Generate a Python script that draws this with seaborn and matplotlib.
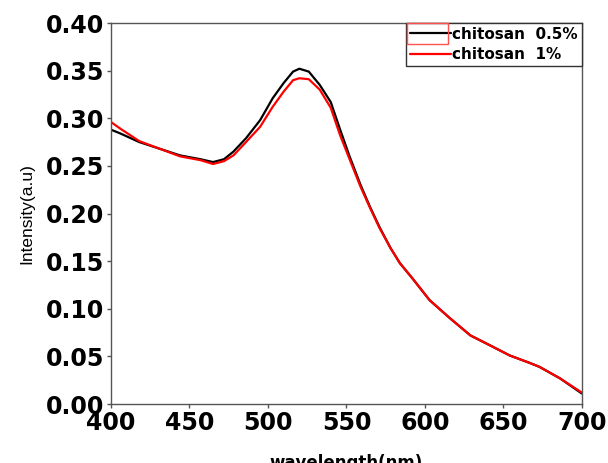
import matplotlib
matplotlib.use('Agg')
import matplotlib.pyplot as plt
import pandas as pd
import seaborn as sns
from matplotlib.patches import Rectangle

# wavelength (nm) and intensity
wavelength = [400, 406, 418, 431, 444, 457, 465, 472, 478, 486, 495, 503, 510, 516, 520, 526,
              533, 540, 546, 552, 559, 565, 571, 578, 584, 592, 603, 616, 629, 641, 654, 667,
              673, 686, 700]
chitosan_05 = [0.288, 0.284, 0.275, 0.268, 0.261, 0.257, 0.254, 0.257, 0.265, 0.279, 0.298, 0.321,
               0.337, 0.349, 0.352, 0.349, 0.335, 0.317, 0.288, 0.260, 0.230, 0.207, 0.186, 0.164,
               0.148, 0.132, 0.109, 0.090, 0.072, 0.062, 0.051, 0.043, 0.039, 0.027, 0.011]
chitosan_1 = [0.296, 0.289, 0.276, 0.268, 0.260, 0.256, 0.252, 0.255, 0.261, 0.275, 0.291, 0.312,
              0.328, 0.340, 0.342, 0.341, 0.330, 0.311, 0.282, 0.257, 0.228, 0.206, 0.185, 0.164,
              0.148, 0.132, 0.109, 0.090, 0.072, 0.062, 0.051, 0.043, 0.039, 0.027, 0.012]
labels = ['chitosan  0.5%', 'chitosan  1%']
xticks = [400, 450, 500, 550, 600, 650, 700]
yticks = [0.00, 0.05, 0.10, 0.15, 0.20, 0.25, 0.30, 0.35, 0.40]

df = pd.DataFrame({
    'wavelength': wavelength * 2,
    'intensity': chitosan_05 + chitosan_1,
    'sample': [labels[0]] * len(wavelength) + [labels[1]] * len(wavelength),
})

sns.set_style('ticks')
plt.rcParams['font.family'] = ['DejaVu Sans']
plt.rcParams['text.color'] = 'black'
plt.rcParams['xtick.color'] = 'black'
plt.rcParams['ytick.color'] = 'black'
plt.rcParams['axes.labelcolor'] = 'black'

fig = plt.figure(figsize=(6.08, 4.63), dpi=100)
ax = fig.add_axes([0.1826, 0.1274, 0.7744, 0.8229])

sns.lineplot(data=df, x='wavelength', y='intensity', hue='sample',
             palette=['black', '#ff0000'], linewidth=1.6, ax=ax)

ax.set_xlim(400, 700)
ax.set_ylim(0, 0.40)
ax.set_xticks(xticks)
ax.set_yticks(yticks)
ax.set_xticklabels([str(t) for t in xticks], fontsize=17, fontweight='bold', color='black')
ax.set_yticklabels(['%.2f' % t for t in yticks], fontsize=17, fontweight='bold', color='black')
ax.tick_params(axis='both', length=3, width=1, color='#555555', pad=2)

for s in ax.spines.values():
    s.set_color('#555555')
    s.set_linewidth(1)

ax.set_xlabel('wavelength(nm)', fontsize=12, fontweight='bold', labelpad=14, color='black')
ax.set_ylabel('Intensity(a.u)', fontsize=12.5, family=['Liberation Sans'], labelpad=8,
              color='black')

handles, _ = ax.get_legend_handles_labels()
leg = ax.legend(handles, labels, loc='upper right', borderaxespad=0, frameon=True,
                fancybox=False, framealpha=1, edgecolor='#333333', handlelength=2.7,
                handletextpad=0.1, labelspacing=0.35, borderpad=0.25,
                prop={'size': 11, 'weight': 'bold'})
leg.get_frame().set_linewidth(1)
for t in leg.get_texts():
    t.set_color('black')

# red selection box around the first legend handle
fig.patches.append(Rectangle((407 / 608, 1 - 44 / 463), 41 / 608, 21 / 463,
                             transform=fig.transFigure, fill=False, edgecolor='#ff5050',
                             linewidth=1, zorder=10))

plt.savefig('out.png', dpi=100)
